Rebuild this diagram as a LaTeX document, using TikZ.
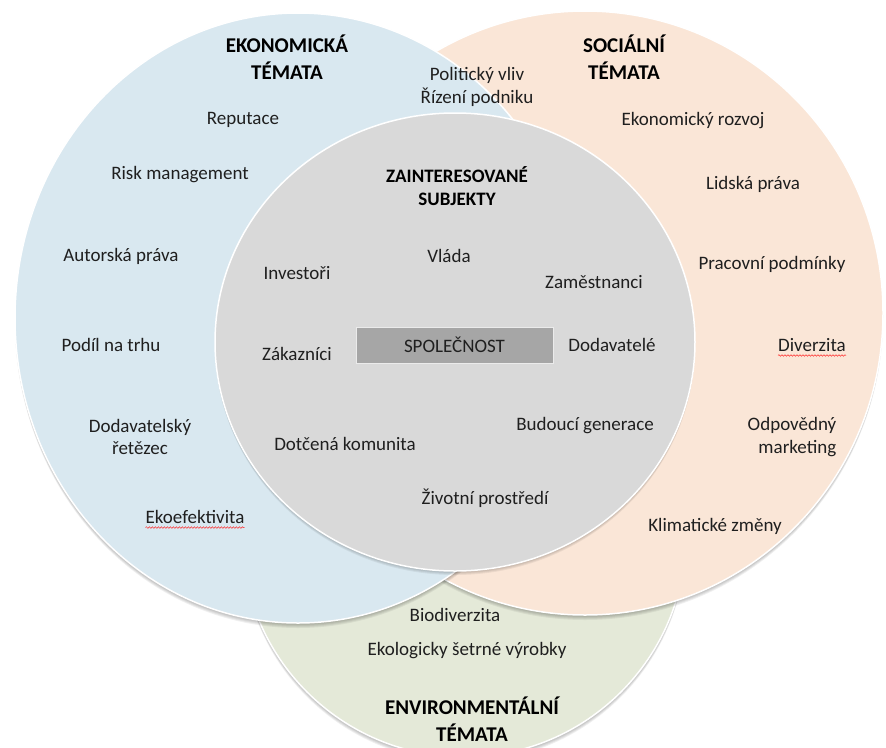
\documentclass[tikz,border=0pt]{standalone}
\usepackage{fontspec}
\setmainfont{Carlito}
\usetikzlibrary{decorations.pathmorphing}
\definecolor{ekoblue}{RGB}{217,232,240}
\definecolor{socorange}{RGB}{250,230,215}
\definecolor{envgreen}{RGB}{228,233,216}
\definecolor{stakegray}{RGB}{217,217,217}
\definecolor{boxgray}{RGB}{166,166,166}
\begin{document}
\begin{tikzpicture}[x=1pt, y=-1pt]
        \tikzstyle{item}=[font=\fontsize{19}{22.5}\selectfont, align=center, inner sep=0pt, text=black!88]
        \tikzstyle{title}=[font=\fontsize{21}{26.5}\selectfont\bfseries, align=center, inner sep=0pt]
        \tikzstyle{disc}=[draw=white, line width=1.5pt]
        \tikzstyle{shade}=[fill=black, opacity=0.06]
        \tikzstyle{typo}=[draw=red!85, line width=0.5pt, decorate, decoration={snake, amplitude=0.8pt, segment length=3pt}]

        \useasboundingbox (0,0) rectangle (886,747);

        \foreach \s in {1,...,5} \fill[shade] (464,535+\s) ellipse [x radius=222pt, y radius=222pt];
        \fill[envgreen, disc] (464,535) ellipse [x radius=222pt, y radius=222pt];

        \foreach \s in {1,...,5} \fill[shade] (585,313+\s) ellipse [x radius=298pt, y radius=302pt];
        \fill[socorange, disc] (585,313) ellipse [x radius=298pt, y radius=302pt];

        \foreach \s in {1,...,5} \fill[shade] (298,318+\s) ellipse [x radius=283pt, y radius=305pt];
        \fill[ekoblue, disc] (298,318) ellipse [x radius=283pt, y radius=305pt];

        \foreach \s in {1,...,4} \fill[shade] (455,342+\s) ellipse [x radius=240pt, y radius=229pt];
        \fill[stakegray, disc] (455,342) ellipse [x radius=240pt, y radius=229pt];

        \node[title] (T_eko) at (287,57) {EKONOMICKÁ\\TÉMATA};
        \node[title] (T_soc) at (624,57) {SOCIÁLNÍ\\TÉMATA};
        \node[title] (T_env) at (472,719) {ENVIRONMENTÁLNÍ\\TÉMATA};
        \node[title, font=\fontsize{19}{22.7}\selectfont\bfseries] (T_zs) at (457,186) {ZAINTERESOVANÉ\\SUBJEKTY};

        \node[item] (X_1) at (477,87) {Politický vliv\\Řízení podniku};

        \node[item] (E_1) at (243,120) {Reputace};
        \node[item] (E_2) at (180,175) {Risk management};
        \node[item] (E_3) at (121,256) {Autorská práva};
        \node[item] (E_4) at (111,345) {Podíl na trhu};
        \node[item] (E_5) at (140,437) {Dodavatelský\\řetězec};
        \node[item] (E_6) at (195,517) {Ekoefektivita};

        \node[item] (S_1) at (693,121) {Ekonomický rozvoj};
        \node[item] (S_2) at (753,184) {Lidská práva};
        \node[item] (S_3) at (772,264) {Pracovní podmínky};
        \node[item] (S_4) at (812,345) {Diverzita};
        \node[item, align=right] (S_5) at (792,437) {Odpovědný\\marketing};
        \node[item] (S_6) at (715,526) {Klimatické změny};

        \node[item] (P_1) at (297,273) {Investoři};
        \node[item] (P_2) at (449,256) {Vláda};
        \node[item] (P_3) at (594,282) {Zaměstnanci};
        \node[item] (P_4) at (297,354) {Zákazníci};
        \node[item] (P_5) at (612,345) {Dodavatelé};
        \node[item] (P_6) at (585,426) {Budoucí generace};
        \node[item] (P_7) at (345,444) {Dotčená komunita};
        \node[item] (P_8) at (485,498) {Životní prostředí};

        \node[item] (N_1) at (455,615) {Biodiverzita};
        \node[item] (N_2) at (467,651) {Ekologicky šetrné výrobky};

        \node[item, draw=white!92!black, fill=boxgray, line width=1pt, minimum width=197pt, minimum height=36pt] (S) at (454.5,345) {SPOLEČNOST};

        \draw[typo] ([yshift=-4pt]E_6.base west) -- ([yshift=-4pt]E_6.base east);
        \draw[typo] ([yshift=-4pt]S_4.base west) -- ([yshift=-4pt]S_4.base east);
\end{tikzpicture}
\end{document}
